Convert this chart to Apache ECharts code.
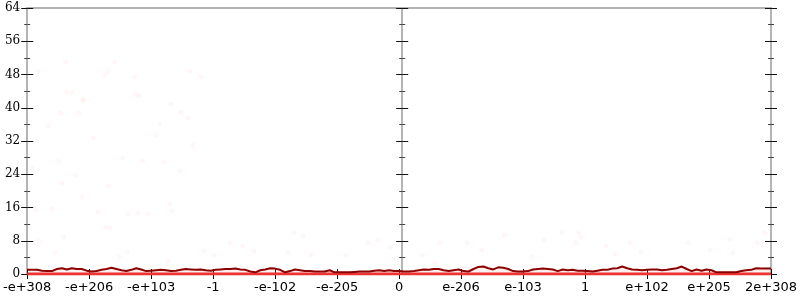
<!DOCTYPE html>
<html><head><meta charset="utf-8">
<script src="https://cdn.jsdelivr.net/npm/echarts@6/dist/echarts.min.js"></script>
<style>html,body{margin:0;padding:0;background:#fff}#c{width:800px;height:300px}</style>
</head><body><div id="c"></div>
<script>
// Tick labels along the x axis (evenly spaced positions 0..12)
var xTickLabels = ['-e+308','-e+206','-e+103','-1','-e-102','-e-205','0','e-206','e-103','1','e+102','e+205','2e+308'];
// Running average line values, sampled at equal steps across the axis
var avgValues = [1.0,1.0,1.0,0.8,0.7,0.7,1.2,1.4,1.1,1.4,1.2,1.2,0.8,0.6,0.7,1.0,1.2,1.5,1.2,0.9,0.7,1.0,1.4,1.1,0.7,0.8,
0.9,1.0,0.9,0.7,0.8,1.0,1.2,1.1,1.0,1.1,0.9,0.8,1.0,1.1,1.2,1.2,1.3,1.1,1.0,0.6,0.4,0.9,1.1,1.4,1.3,
1.0,0.4,0.7,1.1,0.9,0.7,0.7,0.6,0.6,0.6,0.9,0.4,0.4,0.4,0.4,0.5,0.6,0.6,0.6,0.8,0.9,0.7,0.9,0.7,0.7,
0.6,0.6,0.7,0.9,1.1,1.0,1.2,1.2,0.9,0.7,0.9,1.1,0.7,0.6,1.2,1.7,1.8,1.4,1.1,1.6,1.5,1.2,0.7,0.6,0.6,
0.7,1.1,1.2,1.3,1.2,1.1,0.7,1.1,0.9,1.0,0.8,0.8,0.7,0.6,0.8,1.0,1.0,1.3,1.4,1.8,1.4,1.1,1.0,0.9,1.0,
1.1,1.1,0.9,1.0,1.2,1.4,1.8,1.2,0.7,1.1,0.8,1.1,0.9,0.4,0.4,0.4,0.4,0.4,0.7,0.9,1.0,1.4,1.3,1.3,1.3];
// Baseline series (value 0 across the whole range)
var baseX = [0, 12];
var baseValues = [0, 0];
// Faint sample points: x positions (axis units) and y values
var sampleX = [0.18,0.62,0.64,0.72,0.90,1.25,1.30,1.41,1.74,1.76,1.81,2.62,2.80,0.91,2.32,0.54,0.83,2.48,2.59,0.34,2.14,2.08,1.07,2.67,0.51,1.54,1.86,2.21,0.08,0.78,2.46,0.56,1.31,0.88,0.14,0.40,1.14,1.63,1.79,1.95,2.30,2.34,1.26,1.33,
0.19,0.59,0.45,1.49,1.62,2.27,2.86,3.02,3.28,3.47,3.66,4.30,4.45,4.21,4.58,5.14,5.50,5.66,5.86,5.92,
8.90,8.93,8.62,7.10,7.70,8.34,8.85,9.34,9.73,9.90,9.49,6.58,6.38,7.33,8.14,10.66,11.34,11.78,11.90,11.38,11.02,6.66];
var sampleY = [48.8,51.0,43.8,43.6,42.1,47.9,48.8,51.0,47.4,43.1,42.8,48.8,47.4,41.6,40.9,38.7,38.7,39.0,37.5,35.6,36.1,33.4,32.7,31.0,27.2,27.9,27.2,26.9,25.3,23.8,24.8,21.9,21.2,18.5,15.4,15.6,14.9,14.4,14.7,14.4,16.8,15.2,11.3,11.1,
7.9,8.9,5.1,4.1,5.3,3.1,5.5,4.6,7.5,6.7,5.5,9.9,9.1,5.1,4.6,4.6,7.5,8.2,6.3,3.6,
9.9,8.9,10.1,7.5,9.4,8.2,7.5,6.7,7.5,5.3,4.8,2.6,4.6,5.8,4.1,7.5,8.4,7.5,9.9,5.1,5.8,7.5];

var avgData = avgValues.map(function(v,i){return [i*12/(avgValues.length-1), v];});
var baseData = baseX.map(function(x,i){return [x, baseValues[i]];});
var sampleData = sampleX.map(function(x,i){return [x, sampleY[i]];});

var AX = '#b4b4b4', TK = '#111';
function yAx(pos, offset, inside, labels){
  return {type:'value', min:0, max:64, interval:8, position:pos, offset:offset,
    axisLine:{show:true, onZero:false, lineStyle:{color:AX, width:2}},
    axisTick:{show:true, inside:inside, length:6, lineStyle:{color:TK, width:1}},
    minorTick:{show:true, splitNumber:2, length:3, lineStyle:{color:'#444', width:1}},
    axisLabel:{show:labels, margin:7, color:'#000', fontFamily:'DejaVu Serif', fontSize:12},
    splitLine:{show:false}, minorSplitLine:{show:false}};
}
function xAx(pos, inside, labels, showTick){
  return {type:'value', min:0, max:12, interval:1, position:pos,
    axisLine:{show:true, onZero:false, lineStyle:{color:AX, width:2}},
    axisTick:{show:showTick, inside:inside, length:5, lineStyle:{color:TK, width:1}},
    axisLabel:{show:labels, margin:7, color:'#000', fontFamily:'DejaVu Sans', fontSize:13,
      formatter:function(v){return xTickLabels[Math.round(v)];}},
    splitLine:{show:false}};
}
var chart = echarts.init(document.getElementById('c'), null, {renderer:'canvas'});
chart.setOption({
  animation:false,
  grid:{left:24, right:26, top:8, bottom:26, containLabel:false},
  xAxis:[xAx('bottom', false, true, true), xAx('bottom', true, false, true), xAx('top', false, false, false)],
  yAxis:[yAx('left',0,false,true), yAx('left',0,true,false),
         yAx('left',-375,false,false), yAx('left',-375,true,false),
         yAx('right',0,false,false), yAx('right',0,true,false)],
  series:[
    {type:'scatter', data:sampleData, symbolSize:5, itemStyle:{color:'rgba(255,60,60,0.05)'}, silent:true},
    {type:'line', data:avgData, showSymbol:false, lineStyle:{width:0}, areaStyle:{color:'rgba(255,80,80,0.12)'}, silent:true, z:2},
    {type:'line', data:baseData, showSymbol:false, lineStyle:{color:'#ee3333', width:3}, z:3},
    {type:'line', data:avgData, showSymbol:false, lineStyle:{color:'#8b0000', width:2}, z:4}
  ]
});
</script></body></html>
